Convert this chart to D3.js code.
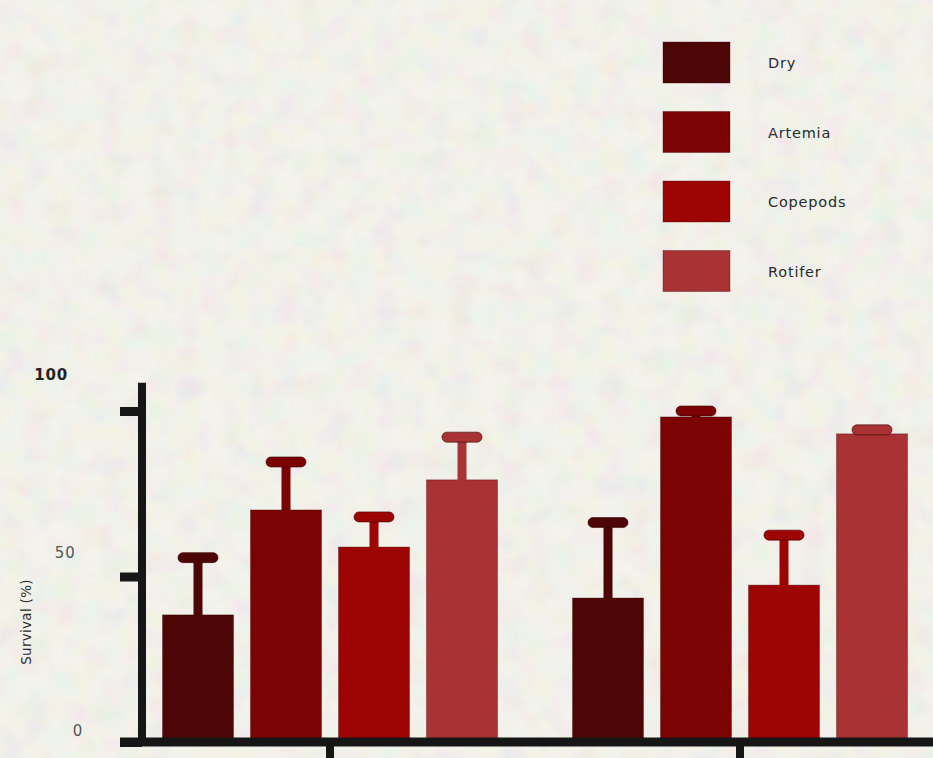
<!DOCTYPE html>
<html>
<head>
<meta charset="utf-8">
<script src="https://cdn.jsdelivr.net/npm/d3@7"></script>
<style>
  html, body { margin: 0; padding: 0; background: #eeede6; }
  svg { display: block; }
  text { font-family: "DejaVu Sans", "Liberation Sans", Arial, sans-serif; }
</style>
</head>
<body>
<svg id="chart" width="933" height="758"></svg>
<script>
// Survival (%) by diet, two groups, mean with SEM
const groups = ["Group A", "Group B"];
const diets = ["Dry", "Artemia", "Copepods", "Rotifer"];
const dietColors = ["#4c0606", "#7b0303", "#9d0404", "#a93334"];
const meanGroupA = [38.4, 70.1, 58.9, 79.2];
const meanGroupB = [43.5, 98.2, 47.4, 93.1];
const semGroupA = [17.3, 14.5, 9.1, 12.9];
const semGroupB = [22.8, 1.8, 15.1, 1.2];
const yTicks = [0, 50, 100];
const yTitle = "Survival (%)";

const means = [meanGroupA, meanGroupB];
const sems = [semGroupA, semGroupB];
const rows = [];
groups.forEach((g, gi) => diets.forEach((d, di) => {
  rows.push({ group: g, diet: d, mean: means[gi][di], sem: sems[gi][di], color: dietColors[di] });
}));

const W = 933, H = 758;
const svg = d3.select("#chart");

// soft mottled pastel paper background
const defs = svg.append("defs");
const f = defs.append("filter").attr("id", "paper")
  .attr("x", 0).attr("y", 0).attr("width", "100%").attr("height", "100%");
f.append("feTurbulence").attr("type", "fractalNoise")
  .attr("baseFrequency", 0.04).attr("numOctaves", 2).attr("seed", 7).attr("result", "n");
f.append("feColorMatrix").attr("in", "n").attr("type", "matrix")
  .attr("values", "0.9 0 0 0 0.5  0 0.9 0 0 0.5  0 0 0.9 0 0.45  0 0 0 0 0.22");
svg.append("rect").attr("width", W).attr("height", H).attr("fill", "#efeee7");
svg.append("rect").attr("width", W).attr("height", H).attr("filter", "url(#paper)");

const y = d3.scaleLinear().domain([0, 108.5]).range([742, 742 - 108.5 * 3.31]);
const x0 = d3.scaleBand().domain(groups).range([125, 945]).paddingInner(0).paddingOuter(0);
const x1 = d3.scaleBand().domain(diets).range([0, 335]).paddingInner(17 / 88).paddingOuter(0);
const groupLeft = g => x0(g) + x0.bandwidth() / 2 - 167.5;
const color = d3.scaleOrdinal().domain(diets).range(dietColors);

// bars
const barG = svg.append("g");
barG.selectAll("rect.bar").data(rows).join("rect")
  .attr("class", "bar")
  .attr("x", d => groupLeft(d.group) + x1(d.diet))
  .attr("y", d => y(d.mean))
  .attr("width", x1.bandwidth())
  .attr("height", d => y(0) - y(d.mean))
  .attr("fill", d => color(d.diet))
  .attr("stroke", "#3a0000")
  .attr("stroke-opacity", 0.35)
  .attr("stroke-width", 1);

// error bars (upper only)
const errG = svg.append("g");
rows.forEach(d => {
  const cx = groupLeft(d.group) + x1(d.diet) + x1.bandwidth() / 2;
  const top = y(d.mean + d.sem);
  errG.append("rect")
    .attr("x", cx - 4.5).attr("y", top).attr("width", 9)
    .attr("height", Math.max(0, y(d.mean) - top + 3))
    .attr("fill", color(d.diet));
  errG.append("rect")
    .attr("x", cx - 20).attr("y", top - 5).attr("width", 40).attr("height", 10)
    .attr("rx", 5).attr("ry", 5)
    .attr("fill", color(d.diet))
    .attr("stroke", "#3a0000").attr("stroke-opacity", 0.6).attr("stroke-width", 1);
});

// x axis
const xAxis = d3.axisBottom(x0).tickSize(20).tickSizeOuter(0).tickFormat("");
const xg = svg.append("g").attr("transform", `translate(0,${y(0)})`).call(xAxis);
xg.select(".domain").remove();
xg.selectAll(".tick line").attr("stroke", "#161616").attr("stroke-width", 8);
svg.append("line")
  .attr("x1", 120).attr("x2", W).attr("y1", y(0)).attr("y2", y(0))
  .attr("stroke", "#161616").attr("stroke-width", 9);

// y axis
const labelY = d3.scaleLinear().domain([0, 100]).range([730, 374]);
const labelX = d3.scaleLinear().domain([0, 100]).range([83, 68]);
const yAxis = d3.axisLeft(y).tickValues(yTicks).tickSize(22).tickSizeOuter(0);
const yg = svg.append("g").attr("transform", "translate(142,0)").call(yAxis);
yg.select(".domain").attr("stroke", "#161616").attr("stroke-width", 8)
  .attr("d", `M0,${y(108.5)}V${y(0) + 4}`);
yg.selectAll(".tick line").attr("stroke", "#161616").attr("stroke-width", 9);
yg.selectAll(".tick text")
  .attr("transform", d => `translate(${labelX(d) - 142 + 25},${labelY(d) - y(d)})`)
  .attr("x", -25)
  .attr("dy", "0.35em")
  .attr("text-anchor", "end")
  .attr("font-size", 15)
  .attr("letter-spacing", 0.8)
  .attr("font-weight", d => d === 100 ? "bold" : "normal")
  .attr("fill", d => d === 100 ? "#222" : "#555");

svg.append("text")
  .attr("transform", "translate(31,622) rotate(-90)")
  .attr("text-anchor", "middle")
  .attr("font-size", 13.5)
  .attr("letter-spacing", 0.3)
  .attr("fill", "#2a2a2a")
  .text(yTitle);

// legend
const legend = svg.append("g").attr("transform", "translate(663,42)");
const li = legend.selectAll("g").data(diets).join("g")
  .attr("transform", (d, i) => `translate(0,${i * 69.5})`);
li.append("rect")
  .attr("width", 67).attr("height", 41)
  .attr("fill", d => color(d))
  .attr("stroke", "#3a0000").attr("stroke-opacity", 0.35);
li.append("text")
  .attr("x", 105).attr("y", 21).attr("dy", "0.35em")
  .attr("font-size", 14.5)
  .attr("letter-spacing", 0.8)
  .attr("fill", "#2a2a2a")
  .text(d => d);
</script>
</body>
</html>
